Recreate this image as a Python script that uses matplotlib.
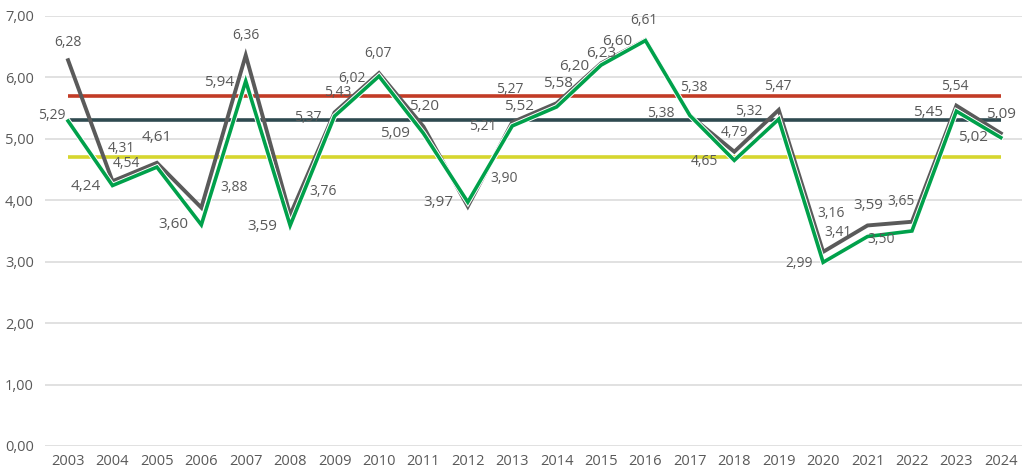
import matplotlib

matplotlib.use("Agg")
import matplotlib.pyplot as plt
import matplotlib.patheffects as pe

years = list(range(2003, 2025))

# dark grey series
grey_vals = [6.28, 4.31, 4.61, 3.88, 6.36, 3.76, 5.43, 6.07, 5.20, 3.90, 5.27,
             5.58, 6.23, 6.61, 5.38, 4.79, 5.47, 3.16, 3.59, 3.65, 5.54, 5.09]
# green series
green_vals = [5.29, 4.24, 4.54, 3.60, 5.94, 3.59, 5.37, 6.02, 5.09, 3.97, 5.21,
              5.52, 6.20, 6.60, 5.38, 4.65, 5.32, 2.99, 3.41, 3.50, 5.45, 5.02]

# reference levels
red_level = 5.70
dark_level = 5.30
yellow_level = 4.70

y_ticks = [0, 1, 2, 3, 4, 5, 6, 7]

# label offsets in pixels (dx, dy), dy positive = up
grey_offsets = [(0, 18), (9, 33), (0, 25), (33, 20), (0, 20), (33, 24), (3, 20), (-1, 20),
                (1, 20), (36, 28), (-2, 33), (1, 20), (0, 10), (-2, 19), (4, 28), (0, 19),
                (-1, 23), (8, 38), (1, 20), (-11, 20), (-2, 19), (0, 19)]
green_offsets = [(-16, 6), (-27, -1), (-30, 4), (-28, 0), (-27, -1), (-28, -1), (-27, -1), (-27, -2),
                 (-28, 0), (-29, 0), (-29, -1), (-38, 0), (-27, -1), (-28, -1), (-29, 2), (-30, -1),
                 (-30, 8), (-24, -1), (-29, 4), (-31, -9), (-28, -1), (-28, 0)]
big_grey = {2005, 2011, 2014, 2015, 2021, 2024}
big_green = {2004, 2006, 2007, 2008, 2011, 2012, 2014, 2015, 2016, 2023, 2024}

GREY = "#5a5a5a"
GREEN = "#00a14b"
RED = "#c23b26"
DARK = "#2f4a50"
YELLOW = "#d6d62e"
TEXT = "#595959"

plt.rcParams["font.family"] = ["Open Sans", "DejaVu Sans"]

fig = plt.figure(figsize=(10.27, 4.71), dpi=100)
ax = fig.add_axes([0.0438, 0.0531, 0.951, 0.913])

ax.set_xlim(2002.48, 2024.47)
ax.set_ylim(0, 7)
ax.set_yticks(y_ticks)
ax.set_yticklabels([f"{t:.2f}".replace(".", ",") for t in y_ticks])
ax.set_xticks(years)
ax.set_xticklabels([str(y) for y in years])
ax.tick_params(length=0, labelsize=10.5, colors=TEXT, pad=6)
ax.tick_params(axis="y", pad=8)
ax.grid(axis="y", color="#d9d9d9", lw=1.1)
ax.set_axisbelow(True)
for s in ax.spines.values():
    s.set_visible(False)

for lvl, col in [(red_level, RED), (dark_level, DARK), (yellow_level, YELLOW)]:
    ax.plot([years[0], years[-1]], [lvl, lvl], color=col, lw=2.6, solid_capstyle="butt", zorder=2)

ax.plot(years, grey_vals, color=GREY, lw=2.8, zorder=3, solid_joinstyle="miter")
ax.plot(years, green_vals, color=GREEN, lw=2.6, zorder=4, solid_joinstyle="miter",
        path_effects=[pe.Stroke(linewidth=4.0, foreground="white"), pe.Normal()])


def fmt(v):
    return f"{v:.2f}".replace(".", ",")


for yr, v, off in zip(years, grey_vals, grey_offsets):
    ax.annotate(fmt(v), (yr, v), xytext=off, textcoords="offset pixels",
                ha="center", va="center", color=TEXT,
                fontsize=11 if yr in big_grey else 10, zorder=5)
for yr, v, off in zip(years, green_vals, green_offsets):
    ax.annotate(fmt(v), (yr, v), xytext=off, textcoords="offset pixels",
                ha="center", va="center", color=TEXT,
                fontsize=11 if yr in big_green else 10, zorder=5)

fig.savefig("out.png", dpi=100)
